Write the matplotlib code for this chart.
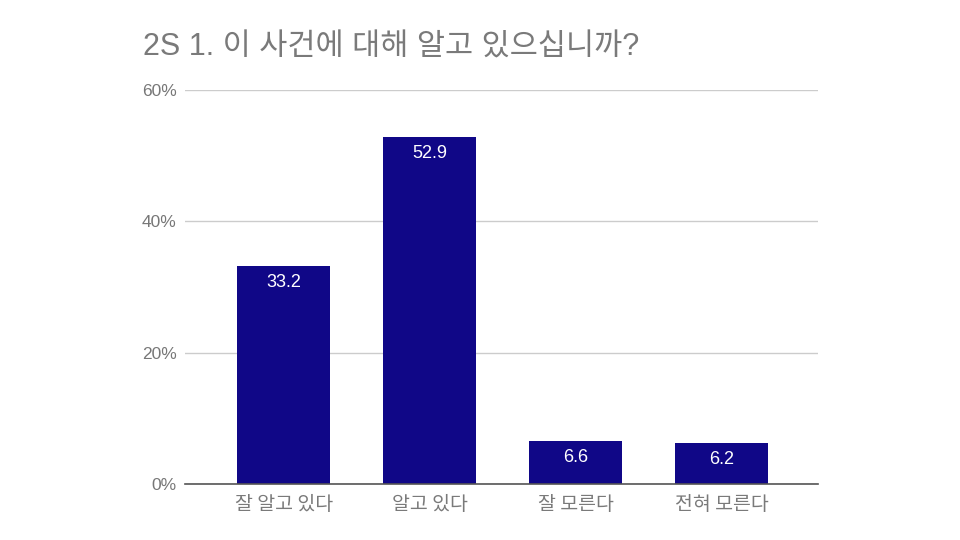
import matplotlib
matplotlib.use("Agg")
import matplotlib.pyplot as plt

plt.rcParams['font.family'] = ['Noto Sans CJK KR', 'DejaVu Sans']

categories = ["잘 알고 있다", "알고 있다", "잘 모른다", "전혀 모른다"]
values = [33.2, 52.9, 6.6, 6.2]
yticks = [0, 20, 40, 60]
ytick_labels = ["0%", "20%", "40%", "60%"]
title = "2S 1. 이 사건에 대해 알고 있으십니까?"

bar_color = "#100787"

fig = plt.figure(figsize=(9.6, 5.4), dpi=100)
ax = fig.add_axes([185/960, 1 - 484/540, (818-185)/960, (484-90)/540])

x = list(range(len(categories)))
bars = ax.bar(x, values, width=0.64, color=bar_color, zorder=3)

for b, v in zip(bars, values):
    ax.annotate(f"{v}", xy=(b.get_x() + b.get_width()/2, v), xytext=(0, -12),
                textcoords="offset points", ha="center", va="center",
                color="white", fontsize=13, family=['Liberation Sans', 'DejaVu Sans'], zorder=4)

ax.set_xlim(-0.675, 3.66)
ax.set_ylim(0, 60)
ax.set_yticks(yticks)
ax.set_yticklabels(ytick_labels, family=['Liberation Sans', 'DejaVu Sans'])
ax.set_xticks(x)
ax.set_xticklabels(categories)
ax.tick_params(axis='y', length=0, pad=6, labelsize=12.5, labelcolor="#777777")
ax.tick_params(axis='x', length=0, pad=7, labelsize=14, labelcolor="#7a7a7a")

for s in ["top", "right", "left"]:
    ax.spines[s].set_visible(False)
ax.spines["bottom"].set_color("#555555")
ax.spines["bottom"].set_linewidth(1.2)
ax.spines["bottom"].set_zorder(5)

ax.yaxis.grid(True, color="#cccccc", linewidth=1, zorder=0)
ax.set_axisbelow(True)

fig.text(143/960, 1 - 56/540, title, fontsize=22, color="#7a7a7a", ha="left", va="baseline",
         family=['Liberation Sans', 'Noto Sans CJK KR'])

fig.savefig("out.png", dpi=100)
